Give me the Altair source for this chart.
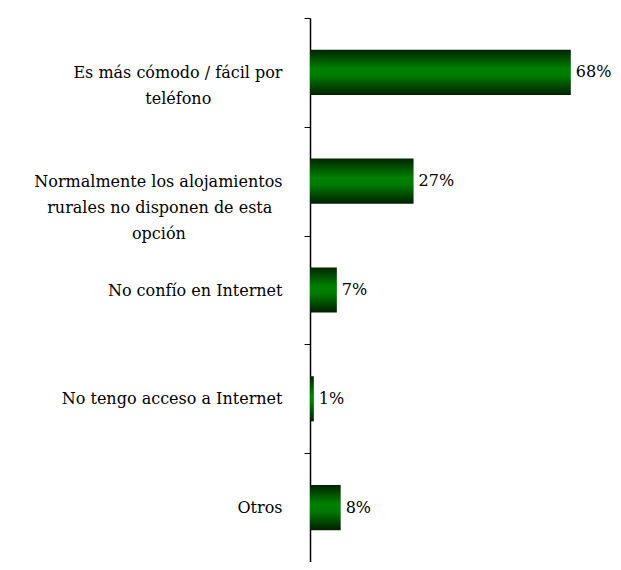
import altair as alt
import pandas as pd

categories = [
    "Es más cómodo / fácil por\nteléfono",
    "Normalmente los alojamientos\nrurales no disponen de esta\nopción",
    "No confío en Internet",
    "No tengo acceso a Internet",
    "Otros",
]
values = [0.68, 0.27, 0.07, 0.01, 0.08]

# trailing no-break spaces per label line, used only to centre the
# continuation lines of wrapped labels under the first line
line_pad = [[0, 14], [0, 2, 19], [0], [0], [0]]

NBSP = "\u00a0"
ZWSP = "\u200b"  # keeps the padding from being trimmed
display = []
for cat, pads in zip(categories, line_pad):
    lines = cat.split("\n")
    display.append("\n".join(l + (NBSP * p + ZWSP if p else "") for l, p in zip(lines, pads)))

df = pd.DataFrame({"cat": display, "val": values})

FONT = "DejaVu Serif"

y_enc = alt.Y(
    "cat:N",
    sort=display,
    scale=alt.Scale(paddingInner=0, paddingOuter=0),
    axis=alt.Axis(
        title=None,
        labelExpr="split(datum.label, '\\n')",
        labelFont=FONT,
        labelFontSize=16,
        labelColor="#000000",
        labelLineHeight=26,
        labelPadding=22,
        labelLimit=400,
        tickSize=6,
        tickColor="#000000",
        tickBand="extent",
        domainColor="#000000",
        domainWidth=1.5,
        grid=False,
    ),
)

x_enc = alt.X("val:Q", scale=alt.Scale(domain=[0, 0.79], nice=False), axis=None)

bars = alt.Chart(df).mark_bar(
    height=alt.RelativeBandSize(0.415),
    color=alt.Gradient(
        gradient="linear",
        x1=0, x2=0, y1=0, y2=1,
        stops=[
            alt.GradientStop(offset=0, color="#002400"),
            alt.GradientStop(offset=0.42, color="#008000"),
            alt.GradientStop(offset=0.58, color="#007a00"),
            alt.GradientStop(offset=1, color="#001e00"),
        ],
    ),
).encode(x=x_enc, y=y_enc)

labels = alt.Chart(df).mark_text(
    align="left", baseline="middle", dx=5, font=FONT, fontSize=16, color="#000000"
).encode(x=x_enc, y=alt.Y("cat:N", sort=display), text=alt.Text("val:Q", format=".0%"))

chart = (
    alt.layer(bars, labels)
    .properties(
        width=303,
        height=544,
        background="white",
        autosize=alt.AutoSizeParams(type="none"),
        padding={"left": 302, "top": 10, "right": 0, "bottom": 0},
    )
    .configure_view(stroke="transparent", strokeWidth=0)
)

chart.save("out.html", embed_options={"renderer": "svg", "actions": False})
